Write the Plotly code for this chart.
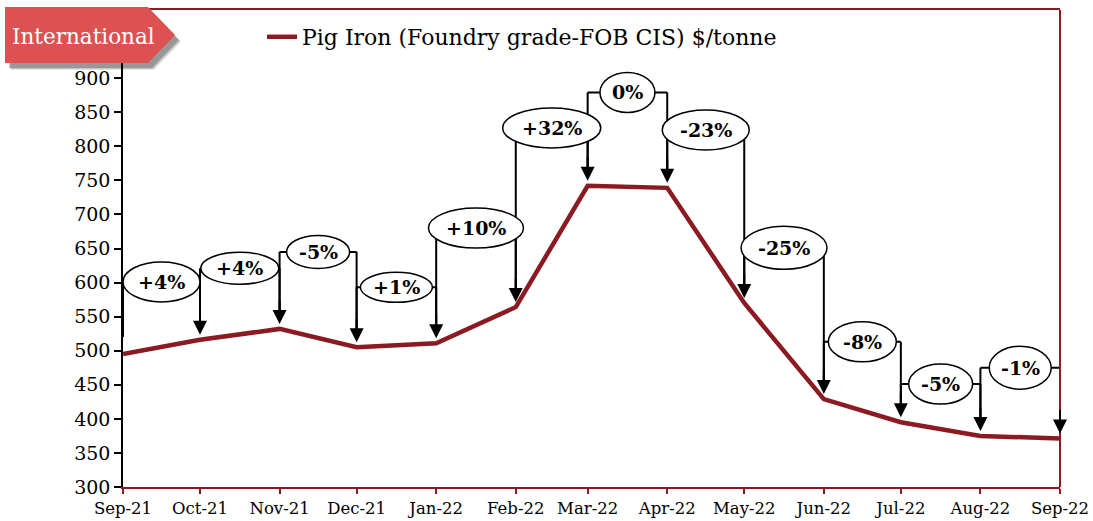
import pandas as pd
import plotly.graph_objects as go

# ---- data ----
months = ["2021-09-01", "2021-10-01", "2021-11-01", "2021-12-01", "2022-01-01",
          "2022-02-01", "2022-03-01", "2022-04-01", "2022-05-01", "2022-06-01",
          "2022-07-01", "2022-08-01", "2022-09-01"]
pig_iron = [495, 516, 532, 505, 511, 564, 742, 739, 570, 429, 395, 375, 371]
change_labels = ["+4%", "+4%", "-5%", "+1%", "+10%", "+32%", "0%",
                 "-23%", "-25%", "-8%", "-5%", "-1%"]
# vertical level (in $/tonne) at which each change bubble is placed
label_levels = [601, 621, 645, 593, 680, 827, 879, 824, 651, 513, 451, 475]

# ---- style ----
bubble_w = [77, 78, 63, 72, 95, 98, 55, 87, 86, 68, 64, 62]   # px
bubble_h = [40, 32, 33, 30, 40, 40, 40, 40, 43, 40, 40, 43]   # px
LINE_RED = "#8B1A22"
AX_RED = "#8B1A22"
FONT = "DejaVu Serif"
GAP = 25  # data units kept free between connector end and the line

W, H = 1093, 521
ML, MR, MT, MB = 123, 33, 10, 34
PW, PH = W - ML - MR, H - MT - MB


def px(xp):
    return (xp - ML) / PW


def py(yp):
    return (H - MB - yp) / PH


dates = pd.to_datetime(months)

fig = go.Figure()
fig.add_trace(go.Scatter(
    x=dates, y=pig_iron, mode="lines",
    line=dict(color=LINE_RED, width=4.5),
    name="Pig Iron (Foundry grade-FOB CIS) $/tonne",
))

shapes = []
annotations = []
lines_k = dict(color="black", width=2)
for i in range(1, len(dates)):
    d0, d1 = dates[i - 1], dates[i]
    lvl = label_levels[i - 1]
    shapes.append(dict(type="line", xref="x", yref="y", x0=d0, x1=d0,
                       y0=lvl, y1=pig_iron[i - 1] + GAP, line=lines_k, layer="above"))
    shapes.append(dict(type="line", xref="x", yref="y", x0=d0, x1=d1,
                       y0=lvl, y1=lvl, line=lines_k, layer="above"))
    shapes.append(dict(type="line", xref="x", yref="y", x0=d1, x1=d1,
                       y0=lvl, y1=pig_iron[i] + GAP, line=lines_k, layer="above"))
    annotations.append(dict(x=d1, y=pig_iron[i], xref="x", yref="y", text="",
                            showarrow=True, ax=0, ay=-30, arrowhead=2,
                            arrowsize=1.4, arrowwidth=2, arrowcolor="black",
                            standoff=5))

bubbles = []
for i in range(1, len(dates)):
    d0, d1 = dates[i - 1], dates[i]
    mid = d0 + (d1 - d0) / 2
    mid_s = mid.strftime("%Y-%m-%d %H:%M:%S")
    lvl = label_levels[i - 1]
    w, h = bubble_w[i - 1], bubble_h[i - 1]
    bubbles.append(dict(type="circle", xref="x", yref="y",
                        xsizemode="pixel", ysizemode="pixel",
                        xanchor=mid_s, yanchor=lvl,
                        x0=-w / 2, x1=w / 2, y0=-h / 2, y1=h / 2,
                        fillcolor="white", line=dict(color="black", width=1.5),
                        layer="above"))
    annotations.append(dict(x=mid_s, y=lvl, xref="x", yref="y",
                            text="<b>%s</b>" % change_labels[i - 1],
                            showarrow=False,
                            font=dict(family=FONT, size=19, color="black")))
shapes += bubbles

shapes.append(dict(type="line", xref="paper", yref="paper", x0=1, x1=1, y0=0, y1=1,
                   line=dict(color=AX_RED, width=2), layer="above"))


def badge_path(dx, dy):
    pts = [(5, 7), (148, 7), (175, 35), (148, 63), (5, 63)]
    p = ["%s%.5f,%.5f" % ("M" if k == 0 else "L", px(x + dx), py(y + dy))
         for k, (x, y) in enumerate(pts)]
    return " ".join(p) + " Z"


for (dx, dy, op) in [(6, 7, 0.10), (5, 6, 0.15), (4, 5, 0.22)]:
    shapes.append(dict(type="path", xref="paper", yref="paper", path=badge_path(dx, dy),
                       fillcolor="black", opacity=op, line=dict(width=0), layer="above"))
shapes.append(dict(type="path", xref="paper", yref="paper", path=badge_path(0, 0),
                   fillcolor="#DE5152", line=dict(width=0), layer="above"))
annotations.append(dict(x=px(83), y=py(37), xref="paper", yref="paper",
                        xanchor="center", yanchor="middle",
                        text="International", showarrow=False,
                        font=dict(family=FONT, size=21.5, color="white")))

fig.update_layout(
    width=W, height=H,
    margin=dict(l=ML, r=MR, t=MT, b=MB, autoexpand=False),
    paper_bgcolor="white", plot_bgcolor="white",
    font=dict(family=FONT, color="black"),
    showlegend=True,
    legend=dict(x=px(262), y=py(37), xanchor="left", yanchor="middle",
                bgcolor="rgba(0,0,0,0)", font=dict(family=FONT, size=22, color="black")),
    shapes=shapes,
    annotations=annotations,
)
fig.update_xaxes(
    type="date", range=[months[0], months[-1]], automargin=False,
    tick0=months[0], dtick="M1", tickformat="%b-%y",
    showgrid=False, zeroline=False,
    showline=True, linecolor=AX_RED, linewidth=2, mirror=True,
    ticks="outside", tickcolor=AX_RED, ticklen=5, tickwidth=2,
    tickfont=dict(family=FONT, size=16.5, color="black"),
)
fig.update_yaxes(
    range=[300, 1000], dtick=50, automargin=False,
    showgrid=False, zeroline=False,
    showline=True, linecolor="black", linewidth=1.5,
    ticks="outside", tickcolor="black", ticklen=7, tickwidth=1.5,
    tickfont=dict(family=FONT, size=19, color="black"),
)

fig.write_html("out.html",
               config={"displayModeBar": False},
               post_script="document.body.style.margin='0px';"
                           "document.body.style.overflow='hidden';")
